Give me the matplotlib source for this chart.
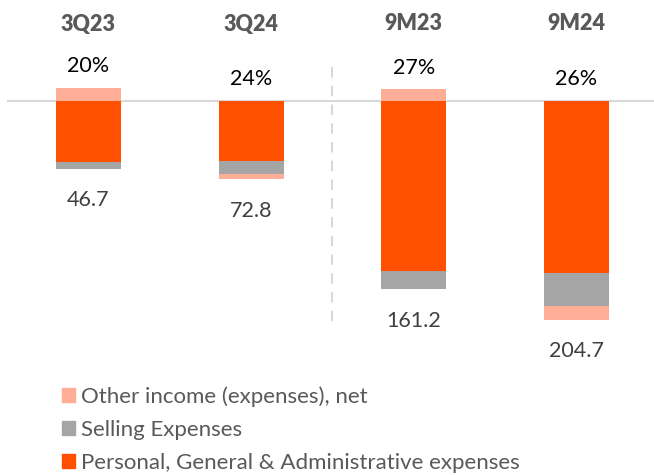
import matplotlib
matplotlib.use("Agg")
import matplotlib.pyplot as plt
import numpy as np
from matplotlib.patches import Patch

plt.rcParams['font.family'] = ['Lato', 'DejaVu Sans']

categories = ['3Q23', '3Q24', '9M23', '9M24']
# expenses are drawn downward from zero, other income is positive when it is income
pga_expenses = [57.0, 56.1, 158.9, 160.8]
selling_expenses = [6.3, 11.9, 17.1, 30.8]
other_income = [12.4, -5.2, 10.9, -13.1]
margin_labels = ['20%', '24%', '27%', '26%']
total_labels = ['46.7', '72.8', '161.2', '204.7']

c_pga = '#FF5000'
c_sell = '#A5A5A5'
c_other = '#FFAD96'

fig = plt.figure(figsize=(6.54, 4.75), dpi=100)
ax = fig.add_axes([7 / 654, 1 - 360 / 475, 647 / 654, 360 / 475])

x = np.arange(len(categories))
pga = -np.array(pga_expenses)
sell = -np.array(selling_expenses)
other = np.array(other_income)
w = 0.4

ax.bar(x, pga, w, color=c_pga, zorder=3)
ax.bar(x, sell, w, bottom=pga, color=c_sell, zorder=3)
other_bottom = np.where(other > 0, 0, pga + sell)
ax.bar(x, other, w, bottom=other_bottom, color=c_other, zorder=3)

ax.axhline(0, color='#D9D9D9', lw=1.5, zorder=2)
ax.plot([1.5, 1.5], [32, -211], color='#D9D9D9', lw=1.5, ls=(0, (5, 4)), zorder=1)

ax.set_xlim(-0.5, 3.476)
ax.set_ylim(-242.1, 94.4)
ax.axis('off')

tr = ax.get_xaxis_transform()
for i, cat in enumerate(categories):
    ax.text(x[i], 1 - 24 / 360, cat, transform=tr, ha='center', va='center',
            fontsize=15.5, fontweight='heavy', color='#595959')
    top = max(other[i], 0)
    ax.annotate(margin_labels[i], (x[i], top), xytext=(0, 15.5), textcoords='offset points',
                ha='center', va='center', fontsize=15.5, color='black')
    low = min(pga[i] + sell[i] + min(other[i], 0), 0)
    ax.annotate(total_labels[i], (x[i], low), xytext=(0, -22.5), textcoords='offset points',
                ha='center', va='center', fontsize=15.5, color='#404040')

handles = [Patch(color=c_other, label='Other income (expenses), net'),
           Patch(color=c_sell, label='Selling Expenses'),
           Patch(color=c_pga, label='Personal, General & Administrative expenses')]
fig.legend(handles=handles, loc='upper left', bbox_to_anchor=(62 / 654, 1 - 386 / 475),
           frameon=False, fontsize=16, handlelength=0.6, handleheight=0.6,
           handletextpad=0.25, labelspacing=0.6, labelcolor='#595959',
           borderpad=0, borderaxespad=0)

fig.savefig('out.png', dpi=100)
